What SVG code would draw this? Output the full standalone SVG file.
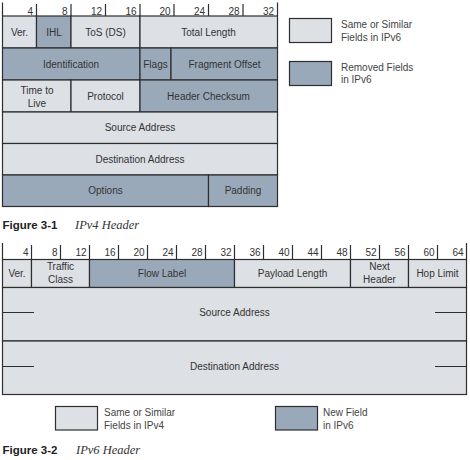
<svg xmlns="http://www.w3.org/2000/svg" width="470" height="460" viewBox="0 0 470 460">
<style>
.l{fill:#dde0e5;stroke:#2e2e2e;stroke-width:1.2}
.d{fill:#9aa9ba;stroke:#2e2e2e;stroke-width:1.2}
.t{font-family:"Liberation Sans",Arial,sans-serif;font-size:10px;fill:#333;text-anchor:middle}
.n{font-family:"Liberation Sans",Arial,sans-serif;font-size:10px;fill:#333;text-anchor:end}
.g{font-family:"Liberation Sans",Arial,sans-serif;font-size:10px;fill:#444}
.k{stroke:#2e2e2e;stroke-width:1.2;fill:none}
.cb{font-family:"Liberation Sans",Arial,sans-serif;font-size:11.5px;font-weight:bold;fill:#222}
.ci{font-family:"Liberation Serif","Times New Roman",serif;font-size:12.5px;font-style:italic;fill:#333}
</style>

<!-- IPv4 bit ruler -->
<g id="ipv4-ruler">
<path class="k" d="M2.5 2.5V16M36.5 4V16M71 4V16M105.5 4V16M140 4V16M174 4V16M208.5 4V16M243 4V16M277.5 2.5V16"/>
<text class="n" x="33" y="14.5">4</text>
<text class="n" x="67.5" y="14.5">8</text>
<text class="n" x="102" y="14.5">12</text>
<text class="n" x="136.5" y="14.5">16</text>
<text class="n" x="170.5" y="14.5">20</text>
<text class="n" x="205" y="14.5">24</text>
<text class="n" x="239.5" y="14.5">28</text>
<text class="n" x="274" y="14.5">32</text>
</g>

<g id="v4-ver"><rect class="l" x="2.5" y="16" width="34" height="32"/><text class="t" x="19.5" y="35.5">Ver.</text></g>
<g id="v4-ihl"><rect class="d" x="36.5" y="16" width="34.5" height="32"/><text class="t" x="54" y="35.5">IHL</text></g>
<g id="v4-tos"><rect class="l" x="71" y="16" width="69" height="32"/><text class="t" x="105.5" y="35.5">ToS (DS)</text></g>
<g id="v4-totallength"><rect class="l" x="140" y="16" width="137.5" height="32"/><text class="t" x="208.5" y="35.5">Total Length</text></g>

<g id="v4-identification"><rect class="d" x="2.5" y="48" width="137.5" height="32"/><text class="t" x="71" y="67.5">Identification</text></g>
<g id="v4-flags"><rect class="d" x="140" y="48" width="31" height="32"/><text class="t" x="155.5" y="67.5">Flags</text></g>
<g id="v4-fragoffset"><rect class="d" x="171" y="48" width="106.5" height="32"/><text class="t" x="224.5" y="67.5">Fragment Offset</text></g>

<g id="v4-ttl"><rect class="l" x="2.5" y="80" width="68.5" height="32"/><text class="t" x="37" y="93.8">Time to</text><text class="t" x="37" y="107">Live</text></g>
<g id="v4-protocol"><rect class="l" x="71" y="80" width="69" height="32"/><text class="t" x="105.5" y="99.5">Protocol</text></g>
<g id="v4-checksum"><rect class="d" x="140" y="80" width="137.5" height="32"/><text class="t" x="208.5" y="99.5">Header Checksum</text></g>

<g id="v4-source"><rect class="l" x="2.5" y="112" width="275" height="31.5"/><text class="t" x="140" y="131">Source Address</text></g>
<g id="v4-destination"><rect class="l" x="2.5" y="143.5" width="275" height="31.5"/><text class="t" x="140" y="162.5">Destination Address</text></g>
<g id="v4-options"><rect class="d" x="2.5" y="175" width="206" height="31.5"/><text class="t" x="105.5" y="194">Options</text></g>
<g id="v4-padding"><rect class="d" x="208.5" y="175" width="69" height="31.5"/><text class="t" x="243" y="194">Padding</text></g>

<g id="v4-legend-same"><rect class="l" x="289.5" y="18.5" width="42" height="24"/><text class="g" x="341" y="28">Same or Similar</text><text class="g" x="341" y="40.5">Fields in IPv6</text></g>
<g id="v4-legend-removed"><rect class="d" x="289.5" y="61.5" width="42" height="24"/><text class="g" x="341" y="70.5">Removed Fields</text><text class="g" x="341" y="83">in IPv6</text></g>

<g id="caption1"><text class="cb" x="2.5" y="229">Figure 3-1</text><text class="ci" x="75" y="229">IPv4 Header</text></g>

<!-- IPv6 bit ruler -->
<g id="ipv6-ruler">
<path class="k" d="M2.5 243V259.5M31.5 245V259.5M60.5 245V259.5M89.5 245V259.5M118.5 245V259.5M147.5 245V259.5M176.5 245V259.5M205.5 245V259.5M234.5 245V259.5M263.5 245V259.5M292.5 245V259.5M321.5 245V259.5M350.5 245V259.5M379.5 245V259.5M408.5 245V259.5M437.5 245V259.5M466.5 243V259.5"/>
<text class="n" x="28.5" y="256">4</text>
<text class="n" x="57.5" y="256">8</text>
<text class="n" x="86.5" y="256">12</text>
<text class="n" x="115.5" y="256">16</text>
<text class="n" x="144.5" y="256">20</text>
<text class="n" x="173.5" y="256">24</text>
<text class="n" x="202.5" y="256">28</text>
<text class="n" x="231.5" y="256">32</text>
<text class="n" x="260.5" y="256">36</text>
<text class="n" x="289.5" y="256">40</text>
<text class="n" x="318.5" y="256">44</text>
<text class="n" x="347.5" y="256">48</text>
<text class="n" x="376.5" y="256">52</text>
<text class="n" x="405.5" y="256">56</text>
<text class="n" x="434.5" y="256">60</text>
<text class="n" x="463.5" y="256">64</text>
</g>

<g id="v6-ver"><rect class="l" x="2.5" y="259.5" width="29" height="28"/><text class="t" x="17" y="277">Ver.</text></g>
<g id="v6-trafficclass"><rect class="l" x="31.5" y="259.5" width="58" height="28"/><text class="t" x="60.5" y="270">Traffic</text><text class="t" x="60.5" y="283">Class</text></g>
<g id="v6-flowlabel"><rect class="d" x="89.5" y="259.5" width="145" height="28"/><text class="t" x="162" y="277">Flow Label</text></g>
<g id="v6-payload"><rect class="l" x="234.5" y="259.5" width="116" height="28"/><text class="t" x="292.5" y="277">Payload Length</text></g>
<g id="v6-nextheader"><rect class="l" x="350.5" y="259.5" width="58" height="28"/><text class="t" x="379.5" y="270">Next</text><text class="t" x="379.5" y="283">Header</text></g>
<g id="v6-hoplimit"><rect class="l" x="408.5" y="259.5" width="58" height="28"/><text class="t" x="437.5" y="277">Hop Limit</text></g>

<g id="v6-source"><rect class="l" x="2.5" y="287.5" width="464" height="53.5"/><path class="k" d="M2.5 312.5H34M435 312.5H466.5"/><text class="t" x="234.5" y="316">Source Address</text></g>
<g id="v6-destination"><rect class="l" x="2.5" y="341" width="464" height="53.5"/><path class="k" d="M2.5 366.5H34M435 366.5H466.5"/><text class="t" x="234.5" y="370">Destination Address</text></g>

<g id="v6-legend-same"><rect class="l" x="55.5" y="406.5" width="42" height="23.5"/><text class="g" x="104" y="416">Same or Similar</text><text class="g" x="104" y="428.5">Fields in IPv4</text></g>
<g id="v6-legend-new"><rect class="d" x="275.5" y="406.5" width="42" height="23.5"/><text class="g" x="323" y="416">New Field</text><text class="g" x="323" y="428.5">in IPv6</text></g>

<g id="caption2"><text class="cb" x="2.5" y="453.5">Figure 3-2</text><text class="ci" x="76" y="453.5">IPv6 Header</text></g>

<g id="connectors"></g>
</svg>
